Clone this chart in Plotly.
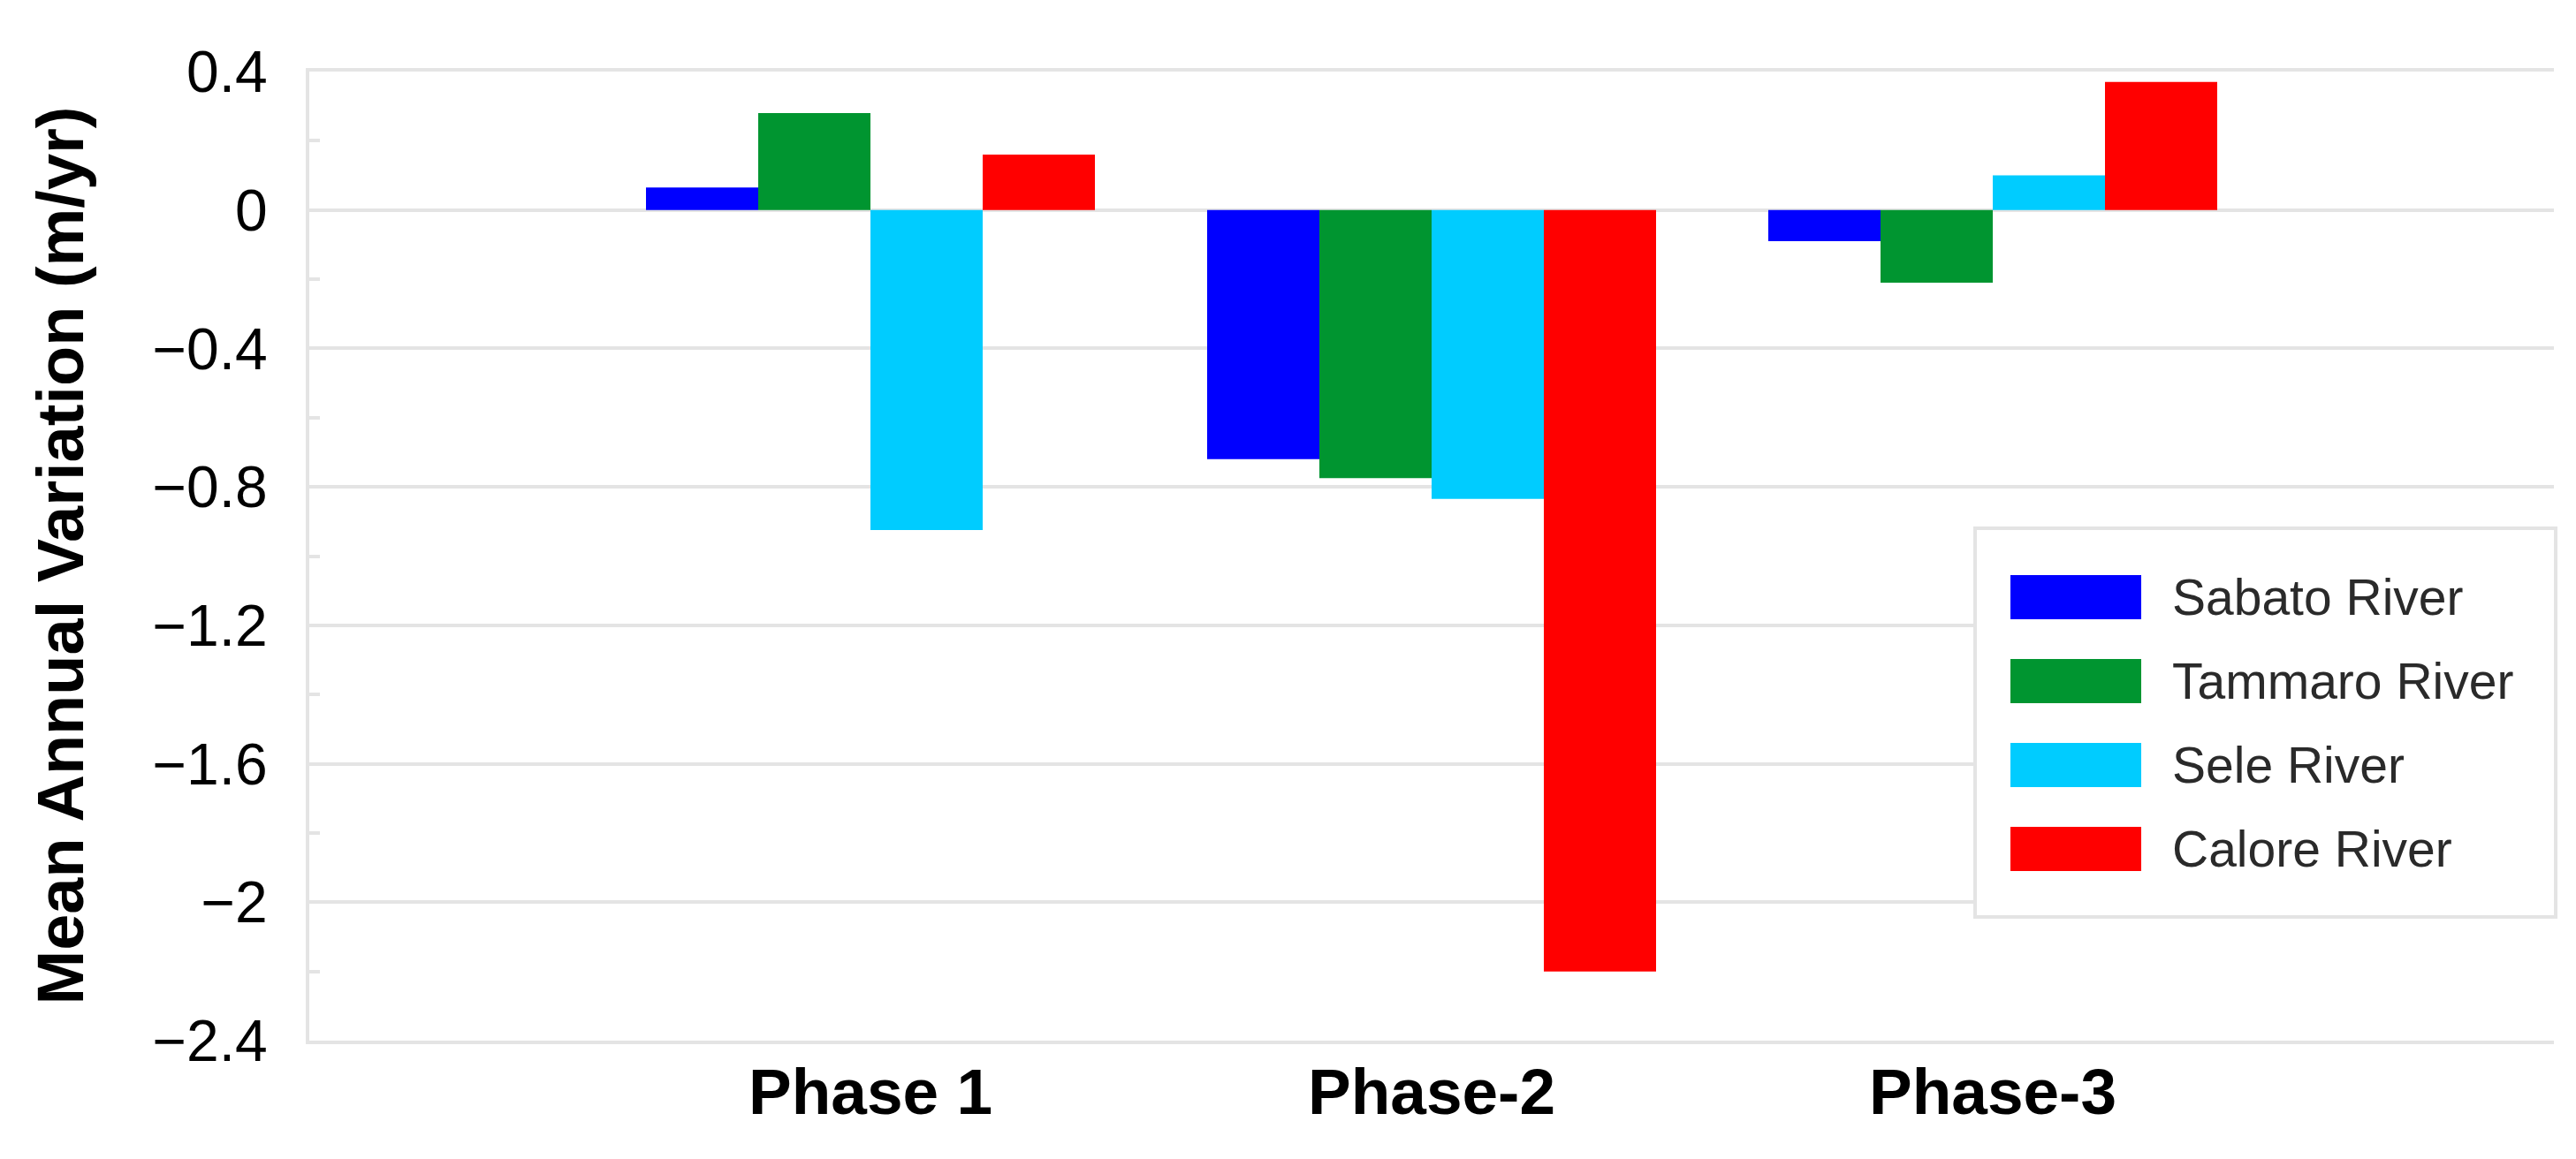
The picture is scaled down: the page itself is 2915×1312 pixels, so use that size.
import plotly.graph_objects as go

# ---- data ----
PHASES = ["Phase 1", "Phase-2", "Phase-3"]
SERIES = ["Sabato River", "Tammaro River", "Sele River", "Calore River"]
SABATO = [0.065, -0.72, -0.09]
TAMMARO = [0.28, -0.775, -0.21]
SELE = [-0.925, -0.835, 0.10]
CALORE = [0.16, -2.20, 0.37]
COLORS = ["#0000ff", "#009530", "#00ccff", "#ff0000"]
Y_TICKS = [0.4, 0, -0.4, -0.8, -1.2, -1.6, -2, -2.4]

VALUES = [SABATO, TAMMARO, SELE, CALORE]

W, H = 2915, 1312
L, R, T, B = 342, 33, 73, 142
PW, PH = W - L - R, H - T - B

def px_x(px):
    return (px - L) / PW

def px_y(py):
    return (H - B - py) / PH

GRID = "#e4e4e4"
FONT = "Liberation Sans, Arial, sans-serif"

fig = go.Figure()
for name, vals, col in zip(SERIES, VALUES, COLORS):
    fig.add_trace(go.Bar(x=PHASES, y=vals, name=name,
                         marker=dict(color=col, line=dict(width=0)),
                         showlegend=False))

shapes = []
annotations = []

# legend box
shapes.append(dict(type="rect", xref="paper", yref="paper",
                   x0=px_x(2227), x1=px_x(2884), y0=px_y(1030), y1=px_y(590),
                   line=dict(color=GRID, width=4), fillcolor="white", layer="above"))
row_c0, row_step = 668, 95
for i, (name, col) in enumerate(zip(SERIES, COLORS)):
    cy = row_c0 + i * row_step
    shapes.append(dict(type="rect", xref="paper", yref="paper",
                       x0=px_x(2267), x1=px_x(2415), y0=px_y(cy + 25), y1=px_y(cy - 25),
                       line=dict(width=0), fillcolor=col, layer="above"))
    annotations.append(dict(text=name, xref="paper", yref="paper",
                            x=px_x(2448), y=px_y(cy), xanchor="left", yanchor="middle",
                            showarrow=False,
                            font=dict(family=FONT, size=57, color="#2a2a2a")))

# y-axis title
annotations.append(dict(text="<b>Mean Annual Variation (m/yr)</b>", xref="paper", yref="paper",
                        x=px_x(60), y=0.5, xanchor="center", yanchor="middle",
                        textangle=-90, showarrow=False,
                        font=dict(family=FONT, size=74, color="black")))

fig.update_layout(
    width=W, height=H, autosize=False,
    margin=dict(l=L, r=R, t=T, b=B, pad=0),
    paper_bgcolor="white", plot_bgcolor="white",
    barmode="group", bargap=0.2, bargroupgap=0,
    shapes=shapes, annotations=annotations,
    showlegend=False,
    font=dict(family=FONT, color="black"),
)

fig.update_xaxes(
    type="category", range=[-1, 3],
    tickvals=PHASES, ticktext=["<b>%s</b>" % p for p in PHASES],
    tickfont=dict(family=FONT, size=73, color="black"),
    showgrid=False, zeroline=False,
    showline=True, linecolor=GRID, linewidth=4, mirror=True,
    ticks="", ticklabelstandoff=-9,
)

fig.update_yaxes(
    range=[-2.4, 0.4],
    tickvals=Y_TICKS,
    tickfont=dict(family=FONT, size=66, color="black"),
    showgrid=True, gridcolor=GRID, gridwidth=4,
    zeroline=True, zerolinecolor=GRID, zerolinewidth=4,
    showline=True, linecolor=GRID, linewidth=4,
    ticks="", ticklabelstandoff=30,
    minor=dict(tickvals=[0.2, -0.2, -0.6, -1.0, -1.4, -1.8, -2.2],
               ticks="inside", ticklen=12, tickcolor=GRID, tickwidth=4, showgrid=False),
)

fig.write_html("out.html")
